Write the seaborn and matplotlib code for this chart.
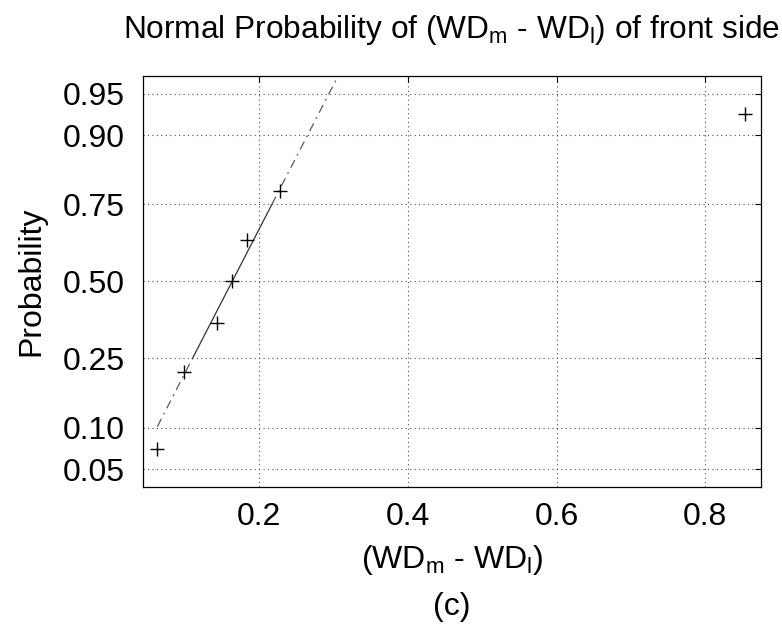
import matplotlib
matplotlib.use("Agg")
import matplotlib.pyplot as plt
import numpy as np
import pandas as pd
import seaborn as sns
from statistics import NormalDist

# values (sorted sample)
wd_diff = [0.0628, 0.0992, 0.1427, 0.1629, 0.1839, 0.2279, 0.8535]
prob_ticks = [0.05, 0.10, 0.25, 0.50, 0.75, 0.90, 0.95]
prob_labels = ["0.05", "0.10", "0.25", "0.50", "0.75", "0.90", "0.95"]
x_ticks = [0.2, 0.4, 0.6, 0.8]
x_labels = ["0.2", "0.4", "0.6", "0.8"]

sns.set_theme(style="white")
plt.rcParams["font.family"] = ["Liberation Sans", "DejaVu Sans"]
plt.rcParams["mathtext.default"] = "regular"
plt.rcParams["xtick.direction"] = "in"
plt.rcParams["ytick.direction"] = "in"
plt.rcParams["xtick.top"] = True
plt.rcParams["ytick.right"] = True
for key in ["text.color", "axes.labelcolor", "xtick.color", "ytick.color"]:
    plt.rcParams[key] = "black"

nd = NormalDist()
n = len(wd_diff)
plot_pos = (np.arange(1, n + 1) - 0.5) / n
z_vals = [nd.inv_cdf(v) for v in plot_pos]
df = pd.DataFrame({"diff": wd_diff, "z": z_vals})

# reference line through the quartiles (matlab normplot style)
q1, q3 = np.percentile(wd_diff, [25, 75], method="hazen")
zq = nd.inv_cdf(0.75)
slope = 2 * zq / (q3 - q1)
mid = (q1 + q3) / 2


def ref(x):
    return slope * (x - mid)


fig = plt.figure(figsize=(7.82, 6.24), dpi=100)
ax = fig.add_axes([0.1829, 0.2196, 0.7903, 0.6587])

dash_dot = (0, (7, 4, 1.5, 4))
sns.lineplot(x=[q1, q3], y=[ref(q1), ref(q3)], ax=ax, color="0.2",
             linewidth=0.9, sort=False, estimator=None)
sns.lineplot(x=[min(wd_diff), q1], y=[ref(min(wd_diff)), ref(q1)], ax=ax,
             color="0.35", linewidth=0.9, linestyle=dash_dot, sort=False, estimator=None)
sns.lineplot(x=[q3, max(wd_diff)], y=[ref(q3), ref(max(wd_diff))], ax=ax,
             color="0.35", linewidth=0.9, linestyle=dash_dot, sort=False, estimator=None)
sns.scatterplot(data=df, x="diff", y="z", marker="+", s=115, color="black",
                linewidth=1.0, ax=ax, zorder=5)

ax.set_xlim(0.0436, 0.875)
ax.set_ylim(-1.8, 1.8)
ax.set_xticks(x_ticks)
ax.set_xticklabels(x_labels)
ax.set_yticks([nd.inv_cdf(p) for p in prob_ticks])
ax.set_yticklabels(prob_labels)
ax.tick_params(labelsize=23, length=4, width=0.8, color="black")
ax.tick_params(axis="y", pad=13)
ax.tick_params(axis="x", pad=11)
ax.grid(True, linestyle=(0, (1, 3)), color="0.3", linewidth=0.8)
for sp in ax.spines.values():
    sp.set_color("black")
    sp.set_linewidth(0.9)

ax.set_title("Normal Probability of (WD$_m$ - WD$_l$) of front side", fontsize=22.8, pad=27)
ax.set_ylabel("Probability", fontsize=23, labelpad=12)
ax.set_xlabel("(WD$_m$ - WD$_l$)", fontsize=23, labelpad=8)
fig.text(0.578, 0.004, "(c)", fontsize=23, ha="center", va="bottom")

fig.savefig("out.png", dpi=100)
